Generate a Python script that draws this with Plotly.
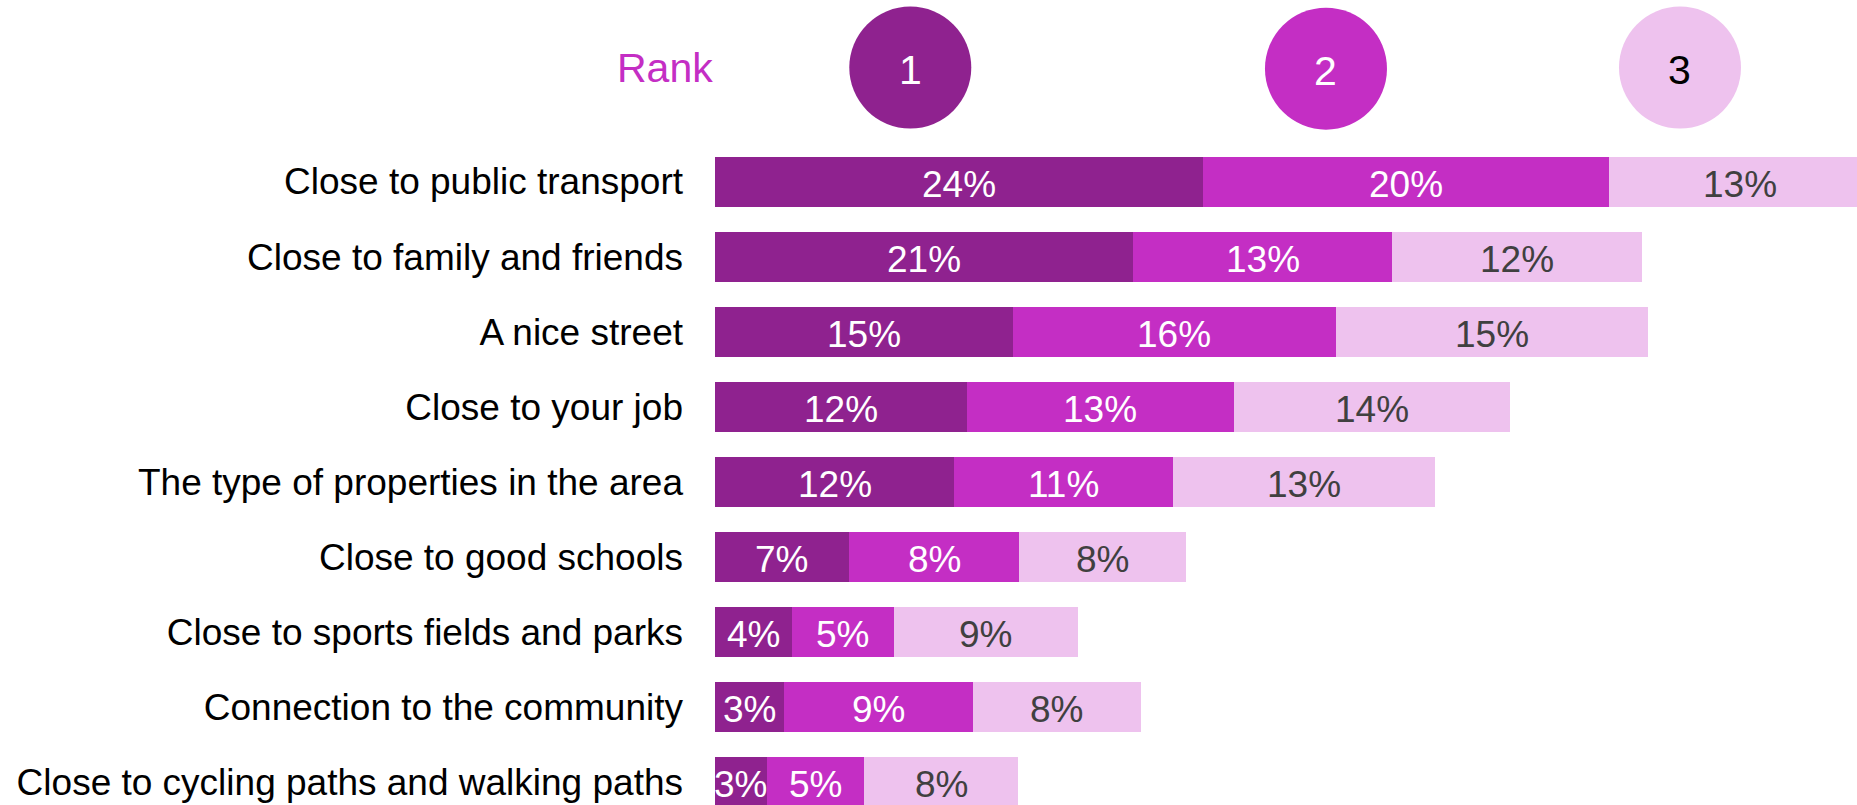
import plotly.graph_objects as go

categories = [
    "Close to public transport",
    "Close to family and friends",
    "A nice street",
    "Close to your job",
    "The type of properties in the area",
    "Close to good schools",
    "Close to sports fields and parks",
    "Connection to the community",
    "Close to cycling paths and walking paths",
]
rank1 = [24.05, 20.6, 14.7, 12.4, 11.8, 6.6, 3.8, 3.4, 2.55]
rank2 = [20.0, 12.8, 15.9, 13.2, 10.8, 8.4, 5.0, 9.3, 4.8]
rank3 = [13.0, 12.3, 15.4, 13.6, 12.9, 8.2, 9.1, 8.3, 7.6]
labels1 = ["24%", "21%", "15%", "12%", "12%", "7%", "4%", "3%", "3%"]
labels2 = ["20%", "13%", "16%", "13%", "11%", "8%", "5%", "9%", "5%"]
labels3 = ["13%", "12%", "15%", "14%", "13%", "8%", "9%", "8%", "8%"]
rank_names = ["1", "2", "3"]

colors = ["#8F228F", "#C42EC4", "#EEC2EE"]
text_colors = ["#FFFFFF", "#FFFFFF", "#404040"]
FONT = "Liberation Sans, Arial, sans-serif"
X_MAX = 56.3

fig = go.Figure()
series = [rank1, rank2, rank3]
label_sets = [labels1, labels2, labels3]
base = [0.0] * len(categories)
for vals, labs, col, tcol, name in zip(series, label_sets, colors, text_colors, rank_names):
    fig.add_trace(
        go.Bar(
            y=categories,
            x=vals,
            orientation="h",
            name=name,
            marker=dict(color=col, line=dict(width=0)),
            hoverinfo="skip",
        )
    )
    for i, (cat, v, lab) in enumerate(zip(categories, vals, labs)):
        start = base[i]
        fig.add_annotation(
            x=start + v / 2, y=cat, xref="x", yref="y",
            text=lab, showarrow=False,
            xanchor="center", yanchor="middle", yshift=-3,
            font=dict(family=FONT, size=37, color=tcol),
        )
        base[i] = start + v

fig.update_layout(
    barmode="stack",
    bargap=0.333,
    width=1857,
    height=805,
    margin=dict(l=715, r=0, t=144, b=0, pad=0),
    paper_bgcolor="white",
    plot_bgcolor="white",
    showlegend=False,
    font=dict(family=FONT, size=37, color="black"),
    xaxis=dict(
        range=[0, X_MAX],
        visible=False,
        showgrid=False,
        zeroline=False,
        fixedrange=True,
    ),
    yaxis=dict(
        type="category",
        categoryorder="array",
        categoryarray=categories,
        range=[8.307, -0.5],
        showgrid=False,
        zeroline=False,
        showline=False,
        ticks="",
        ticklabelstandoff=31,
        tickfont=dict(family=FONT, size=37, color="black"),
        fixedrange=True,
    ),
)

# Rank header circles
circle_x = [0.171, 0.535, 0.845]
circle_y = [1.1157, 1.1139, 1.1157]
circle_text_colors = ["#FFFFFF", "#FFFFFF", "#000000"]
for cx, cy, col, name, tcol in zip(circle_x, circle_y, colors, rank_names, circle_text_colors):
    fig.add_shape(
        type="circle",
        xref="paper", yref="paper",
        xsizemode="pixel", ysizemode="pixel",
        xanchor=cx, yanchor=cy,
        x0=-61, x1=61, y0=-61, y1=61,
        fillcolor=col,
        line=dict(width=0),
        layer="above",
    )
    fig.add_annotation(
        x=cx, y=cy, xref="paper", yref="paper",
        text=name, showarrow=False,
        xanchor="center", yanchor="middle", yshift=-2,
        font=dict(family=FONT, size=41, color=tcol),
    )

fig.add_annotation(
    x=0, y=1.1157, xref="paper", yref="paper",
    text="Rank", showarrow=False,
    xanchor="right", yanchor="middle",
    font=dict(family=FONT, size=41, color="#C42EC4"),
)

fig.write_html(
    "out.html",
    config={"displayModeBar": False},
    post_script="document.body.style.margin='0';document.body.style.overflow='hidden';",
)
